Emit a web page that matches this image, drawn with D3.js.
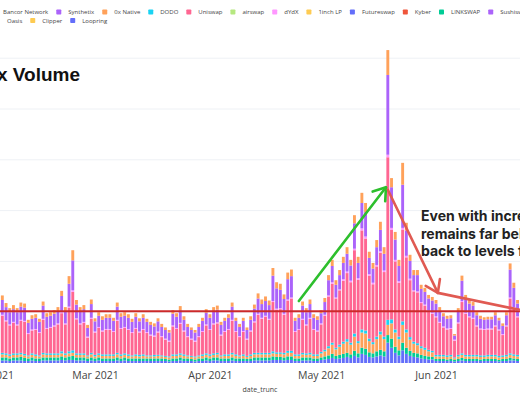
<!DOCTYPE html>
<html lang="en">
<head>
<meta charset="UTF-8">
<title>Dex Volume</title>
<script src="https://d3js.org/d3.v7.min.js"></script>
<style>
    body {
        margin: 0;
        background: #fff;
    }
    svg {
        display: block;
        font-family: "Open Sans", "Liberation Sans", sans-serif;
    }
</style>
</head>
<body>
<svg width="520" height="400"></svg>
<script>
    // one value per day, 3 Feb 2021 .. 23 Jun 2021, in billions
    const firstDay = new Date(2021, 1, 3);
    const dayAfterLast = new Date(2021, 5, 24);

    const loopring = [
        .05,.05,.05,.04,.05,.05,.05,.04,.04,.05, .04,.04,.05,.05,.05,.05,.05,.06,.05,.06,
        .06,.05,.05,.05,.04,.05,.04,.05,.04,.04, .04,.04,.05,.04,.05,.04,.04,.04,.04,.04,
        .04,.04,.04,.04,.04,.04,.03,.04,.04,.05, .04,.04,.04,.03,.04,.04,.05,.04,.05,.05,
        .04,.04,.04,.05,.04,.04,.04,.04,.04,.05, .05,.05,.05,.05,.06,.06,.06,.05,.06,.06,
        .04,.04,.05,.05,.05,.04,.04,
        .06,.07,.08,.10,.08,.09,.10,.12,.10,.14, .11,.18,.16,.12,.11,.13,.15,.13,.40,.30,
        .20,.15,.25,.18,.14,.12,.11,.09,.08,.07, .07,
        .04,.04,.04,.04,.04,.03,.04,.05,.04,.04, .04,.04,.04,.04,.04,.04,.04,.03,.04,.04,
        .05,.05,.04
    ];
    const bancor = [
        .06,.06,.06,.05,.06,.06,.07,.06,.05,.06, .05,.05,.06,.06,.06,.06,.06,.07,.06,.07,
        .08,.06,.06,.06,.05,.06,.05,.06,.05,.05, .05,.05,.06,.05,.06,.05,.05,.05,.05,.05,
        .05,.05,.05,.05,.05,.04,.04,.05,.05,.06, .05,.05,.04,.04,.05,.05,.06,.05,.06,.06,
        .05,.05,.05,.06,.05,.05,.05,.04,.05,.06, .06,.06,.06,.06,.07,.06,.06,.06,.07,.07,
        .05,.05,.06,.06,.06,.05,.05,
        .05,.06,.07,.08,.06,.07,.08,.08,.07,.10, .08,.12,.12,.09,.08,.10,.11,.10,.15,.18,
        .12,.10,.15,.12,.10,.08,.08,.07,.06,.06, .05,
        .04,.04,.04,.03,.04,.03,.04,.05,.04,.04, .04,.04,.03,.04,.04,.04,.04,.03,.04,.04,
        .05,.04,.04
    ];
    const zeroXNative = [
        .05,.06,.05,.05,.05,.05,.05,.05,.04,.05, .05,.04,.06,.05,.05,.05,.05,.06,.05,.06,
        .06,.05,.05,.05,.04,.06,.04,.05,.05,.05, .05,.05,.06,.05,.05,.05,.04,.05,.04,.05,
        .04,.04,.04,.05,.04,.04,.04,.05,.05,.05, .05,.04,.04,.04,.04,.05,.05,.05,.05,.06,
        .04,.05,.05,.06,.05,.04,.05,.04,.05,.06, .06,.06,.06,.06,.06,.06,.06,.06,.07,.07,
        .05,.05,.06,.05,.06,.05,.05,
        .08,.10,.14,.18,.13,.16,.20,.22,.19,.28, .20,.30,.30,.22,.18,.24,.30,.24,.20,.30,
        .28,.22,.35,.30,.22,.18,.16,.13,.12,.10, .09,
        .05,.05,.05,.05,.05,.03,.05,.06,.05,.05, .05,.05,.05,.04,.05,.05,.05,.05,.04,.05,
        .06,.05,.05
    ];
    const dodo = [
        .03,.03,.03,.03,.03,.03,.03,.03,.02,.03, .03,.02,.03,.03,.03,.03,.03,.04,.03,.04,
        .05,.03,.03,.03,.02,.03,.03,.03,.03,.03, .03,.03,.03,.03,.03,.03,.02,.03,.03,.03,
        .02,.02,.03,.02,.02,.02,.02,.03,.03,.03, .03,.02,.02,.02,.02,.03,.03,.03,.03,.03,
        .02,.03,.03,.03,.03,.02,.03,.02,.03,.03, .03,.03,.03,.03,.04,.03,.03,.03,.04,.04,
        .03,.03,.03,.03,.03,.03,.03,
        .03,.03,.04,.04,.03,.04,.04,.05,.04,.06, .04,.06,.06,.05,.04,.05,.06,.05,.10,.08,
        .06,.05,.07,.06,.05,.04,.04,.04,.04,.03, .03,
        .03,.03,.03,.03,.03,.02,.03,.03,.03,.03, .03,.03,.03,.03,.03,.03,.03,.03,.03,.03,
        .03,.03,.03
    ];
    const uniswap = [
        .61,.73,.63,.57,.60,.55,.63,.63,.42,.45, .48,.44,.65,.48,.50,.53,.57,.75,.57,.86,
        1.15,.67,.57,.60,.35,.67,.44,.50,.45,.48, .48,.44,.63,.50,.50,.48,.44,.50,.44,.48,
        .44,.39,.36,.44,.36,.32,.29,.55,.50,.58, .45,.36,.32,.29,.36,.44,.55,.48,.57,.58,
        .39,.44,.48,.63,.44,.36,.44,.32,.45,.60, .75,.67,.71,.65,.97,.84,.85,.75,.99,1.03,
        .44,.48,.65,.55,.67,.48,.45,
        .54,.67,.98,1.16,.97,1.07,1.20,1.30,1.19,1.64, 1.21,1.95,1.81,1.24,1.14,1.38,1.55,1.27,3.20,1.76,
        1.34,1.06,1.80,1.42,1.12,.99,1.00,.85,.83,.75, .73,
        .74,.63,.54,.51,.51,.33,.62,1.01,.81,.74, .71,.56,.51,.50,.50,.50,.56,.50,.40,.56,
        1.08,.91,.74
    ];
    const dydx = [
        .02,.02,.02,.02,.02,.02,.02,.02,.02,.02, .02,.02,.02,.02,.02,.02,.02,.02,.02,.02,
        .03,.02,.02,.02,.02,.02,.02,.02,.02,.02, .02,.02,.02,.02,.02,.02,.02,.02,.02,.02,
        .02,.02,.02,.02,.02,.02,.02,.02,.02,.02, .02,.02,.02,.02,.02,.02,.02,.02,.02,.02,
        .02,.02,.02,.02,.02,.02,.02,.02,.02,.02, .02,.02,.02,.02,.02,.02,.02,.02,.02,.02,
        .02,.02,.02,.02,.02,.02,.02,
        .02,.02,.02,.03,.02,.02,.03,.03,.03,.03, .03,.04,.04,.03,.03,.03,.03,.03,.05,.04,
        .03,.03,.04,.03,.03,.02,.02,.02,.02,.02, .02,
        .02,.02,.02,.02,.02,.02,.02,.02,.02,.02, .02,.02,.02,.02,.02,.02,.02,.02,.02,.02,
        .02,.02,.02
    ];
    const sushiswap = [
        .25,.29,.26,.24,.25,.24,.26,.26,.20,.21, .22,.20,.26,.22,.22,.23,.24,.32,.24,.45,
        .59,.27,.24,.25,.17,.27,.20,.22,.21,.22, .22,.20,.26,.22,.22,.22,.20,.22,.20,.22,
        .20,.19,.18,.20,.18,.17,.16,.23,.22,.25, .21,.18,.17,.16,.18,.20,.23,.22,.24,.25,
        .19,.20,.22,.26,.20,.18,.20,.17,.21,.25, .30,.27,.29,.27,.50,.40,.36,.29,.40,.42,
        .20,.22,.26,.24,.27,.22,.21,
        .20,.25,.30,.32,.25,.28,.32,.35,.30,.50, .30,.50,.48,.32,.28,.35,.42,.33,1.57,.80,
        .40,.30,.85,.50,.35,.30,.32,.26,.25,.24, .24,
        .25,.22,.20,.19,.19,.08,.22,.40,.27,.25, .24,.20,.19,.18,.18,.18,.20,.18,.16,.20,
        .55,.38,.25
    ];
    const balancer = [
        .08,.09,.08,.08,.08,.08,.08,.08,.06,.07, .07,.06,.08,.07,.07,.07,.08,.10,.08,.15,
        .20,.09,.08,.08,.06,.09,.06,.07,.07,.07, .07,.06,.08,.07,.07,.07,.06,.07,.06,.07,
        .06,.06,.06,.06,.06,.05,.05,.07,.07,.08, .07,.06,.05,.05,.06,.06,.07,.07,.08,.08,
        .06,.06,.07,.08,.06,.06,.06,.05,.07,.08, .10,.09,.09,.09,.15,.12,.12,.09,.13,.13,
        .06,.07,.08,.08,.09,.07,.07,
        .06,.08,.10,.12,.09,.10,.12,.13,.11,.16, .12,.20,.18,.12,.11,.14,.16,.13,.49,.18,
        .15,.12,.43,.15,.12,.10,.10,.08,.08,.07, .07,
        .07,.07,.06,.06,.06,.03,.06,.10,.08,.07, .07,.06,.06,.05,.05,.05,.06,.05,.05,.06,
        .12,.10,.07
    ];

    // stacking order, bottom to top
    const seriesNames = ["Loopring", "Bancor Network", "0x Native", "DODO", "Uniswap", "dYdX", "Sushiswap", "Balancer"];
    const seriesValues = [loopring, bancor, zeroXNative, dodo, uniswap, dydx, sushiswap, balancer];
    const seriesColors = ["#636efa", "#00cc96", "#ffa15a", "#19d3f3", "#ff6692", "#ff97ff", "#ab63fa", "#ffa15a"];

    const legendRow1 = ["Bancor Network", "Synthetix", "0x Native", "DODO", "Uniswap", "airswap", "dYdX",
                        "1inch LP", "Futureswap", "Kyber", "LINKSWAP", "Sushiswap", "Balancer"];
    const legendRow1Colors = ["#00cc96", "#ab63fa", "#ffa15a", "#19d3f3", "#ff6692", "#b6e880", "#ff97ff",
                              "#fecb52", "#636efa", "#ef553b", "#00cc96", "#ab63fa", "#ffa15a"];
    const legendRow2 = ["Oasis", "Clipper", "Loopring"];
    const legendRow2Colors = ["#ff97ff", "#fecb52", "#636efa"];

    const monthTicks = [new Date(2021, 1, 1), new Date(2021, 2, 1), new Date(2021, 3, 1),
                        new Date(2021, 4, 1), new Date(2021, 5, 1)];
    const gridValues = [1, 2, 3, 4, 5, 6];

    const title = "Dex Volume";
    const xTitle = "date_trunc";
    const noteLines = ["Even with increased activity, volume",
                       "remains far below the May peak, falling",
                       "back to levels from earlier in the year"];

    // hand-drawn annotations: [date, value] points
    const averageLevel = 1.02;
    const greenArrow = [[new Date(2021, 3, 25, 0), 1.22], [new Date(2021, 4, 18, 12), 3.46]];
    const redArrow = [[new Date(2021, 4, 19, 0), 3.41], [new Date(2021, 5, 1, 12), 1.38]];
    const redTail = [[new Date(2021, 5, 1, 12), 1.38], [new Date(2021, 5, 30), 0.95]];

    const svg = d3.select("svg");
    const W = 520, H = 400;

    const days = d3.timeDay.range(firstDay, dayAfterLast);
    const rows = days.map((d, i) => {
        const r = {date: d};
        seriesNames.forEach((k, j) => r[k] = seriesValues[j][i]);
        return r;
    });

    const x = d3.scaleTime()
        .domain([new Date(2021, 2, 1), new Date(2021, 5, 1)])
        .range([95, 436]);
    const y = d3.scaleLinear().domain([0, 1]).range([363, 312.2]);
    const dayWidth = x(new Date(2021, 2, 2)) - x(new Date(2021, 2, 1));
    const barWidth = dayWidth * 0.78;

    // grid
    svg.append("g")
        .selectAll("line")
        .data(gridValues)
        .join("line")
        .attr("x1", 0).attr("x2", W)
        .attr("y1", d => y(d)).attr("y2", d => y(d))
        .attr("stroke", "#eef1f5")
        .attr("stroke-width", 1);

    // stacked bars
    const stacked = d3.stack().keys(seriesNames)(rows);
    svg.append("g")
        .selectAll("g")
        .data(stacked)
        .join("g")
        .attr("fill", (d, i) => seriesColors[i])
        .selectAll("rect")
        .data(d => d)
        .join("rect")
        .attr("x", d => x(d.data.date) - barWidth / 2)
        .attr("width", barWidth)
        .attr("y", d => y(d[1]))
        .attr("height", d => Math.max(0, y(d[0]) - y(d[1])));

    // x axis
    const xAxis = d3.axisBottom(x)
        .tickValues(monthTicks)
        .tickFormat(d3.timeFormat("%b %Y"))
        .tickSize(0)
        .tickPadding(9);
    const gx = svg.append("g").attr("transform", "translate(0,363)").call(xAxis);
    gx.select(".domain").remove();
    gx.selectAll("text")
        .attr("fill", "#444")
        .style("font-size", "10.5px")
        .style("font-family", "'Open Sans', sans-serif");

    svg.append("text")
        .attr("x", 260).attr("y", 392)
        .attr("text-anchor", "middle")
        .attr("fill", "#444")
        .style("font-size", "7px")
        .text(xTitle);

    // legend
    function legendRow(names, colors, textStart, yMid) {
        const g = svg.append("g");
        let cx = textStart - 12;
        names.forEach((n, i) => {
            g.append("rect")
                .attr("x", cx).attr("y", yMid - 2.5)
                .attr("width", 5).attr("height", 5)
                .attr("rx", 0.8)
                .attr("fill", colors[i]);
            const t = g.append("text")
                .attr("x", cx + 12).attr("y", yMid + 2)
                .attr("fill", "#444")
                .style("font-size", "6px")
                .text(n);
            cx = cx + 12 + t.node().getComputedTextLength() + 8;
        });
    }
    legendRow(legendRow1, legendRow1Colors, 3, 12);
    legendRow(legendRow2, legendRow2Colors, 7, 20.5);

    // title
    svg.append("text")
        .attr("x", 80).attr("y", 81)
        .attr("text-anchor", "end")
        .attr("fill", "#111")
        .style("font-family", "'Liberation Sans', Arial, sans-serif")
        .style("font-weight", "bold")
        .style("font-size", "19px")
        .text(title);

    // annotations
    const line = d3.line().x(p => x(p[0])).y(p => y(p[1]));

    function headPath(pts, len, spread) {
        const a = [x(pts[pts.length - 2][0]), y(pts[pts.length - 2][1])];
        const b = [x(pts[pts.length - 1][0]), y(pts[pts.length - 1][1])];
        const ang = Math.atan2(b[1] - a[1], b[0] - a[0]);
        const l = [b[0] - len * Math.cos(ang - spread), b[1] - len * Math.sin(ang - spread)];
        const r = [b[0] - len * Math.cos(ang + spread), b[1] - len * Math.sin(ang + spread)];
        return `M${l[0]},${l[1]}L${b[0]},${b[1]}L${r[0]},${r[1]}`;
    }

    svg.append("line")
        .attr("x1", 0).attr("x2", W)
        .attr("y1", y(averageLevel)).attr("y2", y(averageLevel))
        .attr("stroke", "#cc2a2a")
        .attr("stroke-width", 2);

    const arrows = [
        {pts: greenArrow, color: "#2dbf2d"},
        {pts: redArrow, color: "#e05a52"},
        {pts: redTail, color: "#e05a52"}
    ];
    arrows.forEach(a => {
        svg.append("path")
            .attr("d", line(a.pts))
            .attr("fill", "none")
            .attr("stroke", a.color)
            .attr("stroke-width", 2.6)
            .attr("stroke-linecap", "round");
        svg.append("path")
            .attr("d", headPath(a.pts, 14, 0.6))
            .attr("fill", "none")
            .attr("stroke", a.color)
            .attr("stroke-width", 2.6)
            .attr("stroke-linecap", "round")
            .attr("stroke-linejoin", "round");
    });

    svg.append("text")
        .attr("fill", "#222")
        .style("font-family", "Inter, 'Noto Sans', sans-serif")
        .style("font-weight", "bold")
        .style("font-size", "14px")
        .selectAll("tspan")
        .data(noteLines)
        .join("tspan")
        .attr("x", 421)
        .attr("y", (d, i) => 221 + i * 17.5)
        .text(d => d);
</script>
</body>
</html>
